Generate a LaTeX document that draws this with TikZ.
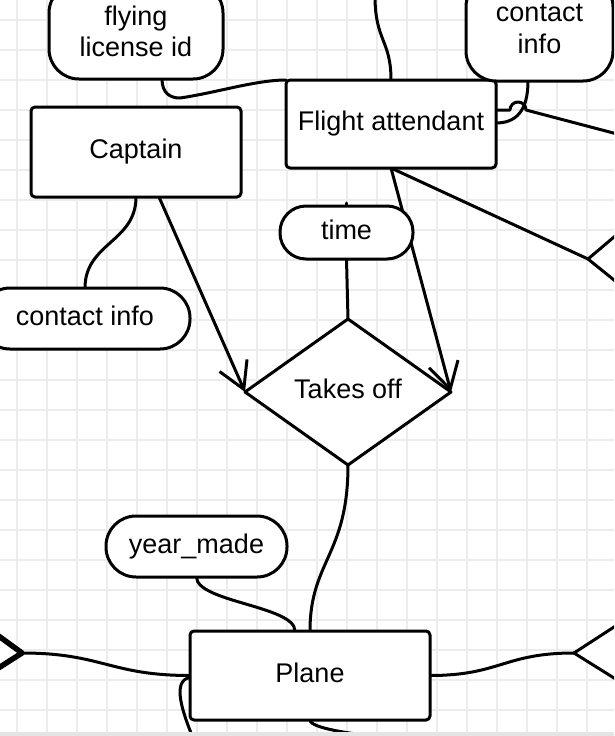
\documentclass[tikz,border=0pt]{standalone}
\usepackage{fontspec}
\setmainfont{Liberation Sans}
\usetikzlibrary{shapes.geometric,arrows.meta}
\definecolor{gridgray}{RGB}{236,236,236}
\definecolor{bargray}{RGB}{228,228,228}
\pgfdeclarelayer{background}
\pgfsetlayers{background,main}
\begin{document}
\begin{tikzpicture}[x=1pt,y=-1pt,
  ln/.style={line width=3pt,line join=round,line cap=round},
  txt/.style={font=\fontsize{27}{31}\selectfont},
  onel/.style={text height=18.5pt,text depth=5.5pt},
  ent/.style={ln,draw,fill=white,rectangle,rounded corners=4pt,inner sep=0pt,outer sep=0pt,txt,onel},
  attr/.style={ln,draw,fill=white,rectangle,inner sep=0pt,outer sep=0pt,txt},
  rel/.style={ln,draw,fill=white,diamond,shape aspect=1.41,inner sep=0pt,outer sep=0pt,txt,onel},
  conn/.style={ln,draw=black},
  crow/.style={-{Straight Barb[length=26pt,width=30pt]}},
  gridline/.style={line width=1.8pt,draw=gridgray},
  edgeshape/.style={ln,draw,fill=white},
]
\useasboundingbox (0,0) rectangle (614,736);
\begin{scope}
\clip (0,0) rectangle (614,732);
% entities
\node[ent,minimum width=210pt,minimum height=90pt] (cap) at (136,152) {Captain};
\node[ent,minimum width=210pt,minimum height=88pt] (fa) at (391,124) {Flight attendant};
\node[ent,minimum width=240pt,minimum height=89pt] (pl) at (310,675.5) {Plane};
% relationship
\node[rel,minimum width=206pt,minimum height=146pt] (tk) at (348,392) {Takes off};
% attributes
\node[attr,onel,rounded corners=26pt,minimum width=133pt,minimum height=53pt] (time) at (346.5,232.5) {time};
\node[attr,onel,rounded corners=30pt,minimum width=210pt,minimum height=61pt] (ci2) at (85,318.5) {contact info};
\node[attr,onel,rounded corners=30pt,minimum width=181pt,minimum height=61pt] (ym) at (196.5,546.5) {year\_made};
\node[attr,align=center,rounded corners=30pt,minimum width=174pt,minimum height=96pt] (fli) at (136,31) {flying\\license id};
\node[attr,align=center,font=\fontsize{27}{32.5}\selectfont,rounded corners=30pt,minimum width=147pt,minimum height=104pt] (ci1) at (539.5,29) {contact\\info};
% partially visible relationship diamonds at the edges
\coordinate (rd1) at (588,259);
\coordinate (rd2) at (574,653);
\coordinate (ld) at (22,653);
\draw[edgeshape] (640,215) -- (rd1) -- (640,301) -- (700,259) -- cycle;
\draw[edgeshape] (654,601) -- (rd2) -- (654,703) -- (720,653) -- cycle;
\draw[edgeshape,line width=5.5pt] (-22,621) -- (ld) -- (-22,681) -- (-80,653) -- cycle;
% free ends of connectors leaving the view
\coordinate (topin) at (375,-4);
\coordinate (offR) at (640,140);
\coordinate (offB1) at (196,745);
\coordinate (offB2) at (390,738);
\end{scope}
\begin{pgfonlayer}{background}
\begin{scope}
\clip (0,0) rectangle (614,732);
\foreach \gx in {17,47,...,617} \draw[gridline] (\gx,0) -- (\gx,736);
\foreach \gy in {20,50,...,740} \draw[gridline] (0,\gy) -- (614,\gy);
% connectors
\draw[conn] (topin) .. controls +(0,45) and +(0,-40) .. (fa.north);
\draw[conn] ([xshift=26pt]fli.south) .. controls +(0,14) and +(-10,0) .. ++(18,19)
  .. controls +(35,-5) and +(-30,0) .. (fa.north west);
\draw[conn] ([xshift=-11.5pt]ci1.south) .. controls +(0,30) and +(20,0) .. ([yshift=1pt]fa.east);
\draw[conn] ([yshift=14pt]fa.east) -- ++(14,0) arc[start angle=180,end angle=0,radius=8pt] -- (offR);
\draw[conn] (fa.south) -- (rd1);
\draw[conn,crow] (fa.south) -- (tk.east);
\draw[conn,crow] ([xshift=23pt]cap.south) -- (tk.west);
\draw[conn] (cap.south) .. controls +(0,45) and +(0,-45) .. (ci2.north);
\draw[conn] (time.south) -- (tk.north);
\draw[conn] (time.north) -- ++(0,-3);
\draw[conn] (tk.south) .. controls +(0,90) and +(0,-70) .. (pl.north);
\draw[conn] (ym.south) .. controls +(0,25) and +(0,-25) .. ([xshift=-15pt]pl.north);
\draw[conn] (pl.west) .. controls +(-80,0) and +(80,0) .. (ld);
\draw[conn] (pl.east) .. controls +(70,0) and +(-70,0) .. (rd2);
\draw[conn] ([yshift=-2pt]pl.west) .. controls +(-18,3) and +(-15,-35) .. (offB1);
\draw[conn] (pl.south) .. controls +(0,8) and +(-40,-4) .. (offB2);
\end{scope}
\end{pgfonlayer}
\fill[bargray] (0,732) rectangle (614,736);
\end{tikzpicture}
\end{document}
